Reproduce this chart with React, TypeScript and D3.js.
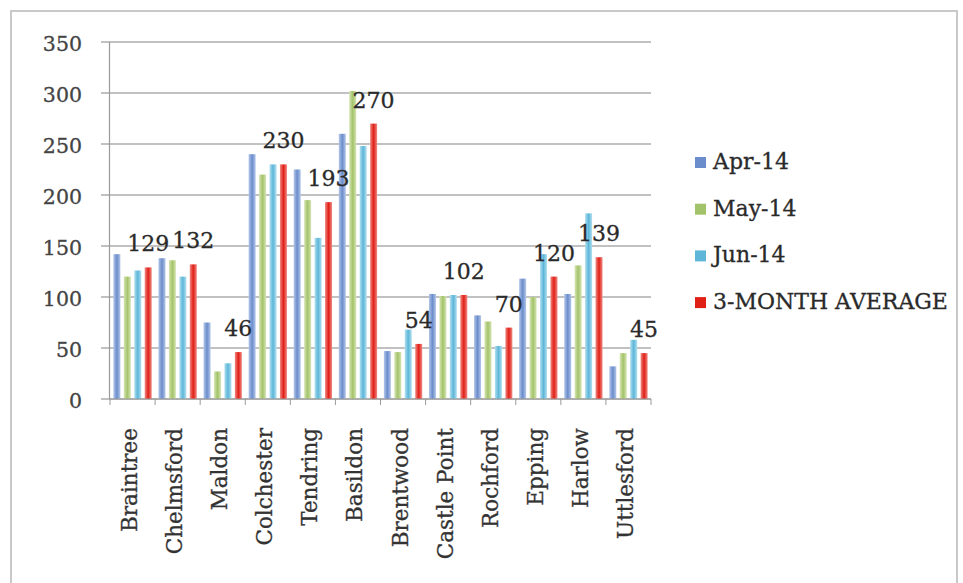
import React, { useEffect, useRef } from 'react';
import * as d3 from 'd3';

const categories = ['Braintree', 'Chelmsford', 'Maldon', 'Colchester', 'Tendring', 'Basildon', 'Brentwood', 'Castle Point', 'Rochford', 'Epping', 'Harlow', 'Uttlesford'];
const seriesNames = ['Apr-14', 'May-14', 'Jun-14', '3-MONTH AVERAGE'];
const apr14 = [142, 138, 75, 240, 225, 260, 47, 103, 82, 118, 103, 32];
const may14 = [120, 136, 27, 220, 195, 302, 46, 101, 76, 100, 131, 45];
const jun14 = [126, 120, 35, 230, 158, 248, 68, 102, 52, 142, 182, 58];
const avg3 = [129, 132, 46, 230, 193, 270, 54, 102, 70, 120, 139, 45];
const yTicks = [0, 50, 100, 150, 200, 250, 300, 350];

// [edge, centre] colours, bars have a soft horizontal gradient
const colors = [
  ['#b3c6ea', '#6b8dcb'],
  ['#d6e5b4', '#a3c36a'],
  ['#b2e0f0', '#5db6d8'],
  ['#f08a84', '#e01f17'],
];

const FONT = '"DejaVu Serif", serif';

export default function App() {
  const ref = useRef<SVGSVGElement>(null);

  useEffect(() => {
    const svg = d3.select(ref.current);
    svg.selectAll('*').remove();

    const values = [apr14, may14, jun14, avg3];

    const x0 = d3.scaleBand().domain(categories).range([110, 651]).paddingInner(0.15).paddingOuter(0.075);
    const x1 = d3.scaleBand().domain(seriesNames).range([0, x0.bandwidth()]).paddingInner(0.33).paddingOuter(0);
    const y = d3.scaleLinear().domain([0, 350]).range([399, 42]);

    // frame
    svg.append('rect')
      .attr('x', 11).attr('y', 11).attr('width', 946).attr('height', 620)
      .attr('fill', '#fff').attr('stroke', '#c9c9c9').attr('stroke-width', 2);

    // gradients
    const defs = svg.append('defs');
    colors.forEach((c, i) => {
      const g = defs.append('linearGradient').attr('id', `g${i}`).attr('x1', 0).attr('x2', 1).attr('y1', 0).attr('y2', 0);
      g.append('stop').attr('offset', '0%').attr('stop-color', c[0]);
      g.append('stop').attr('offset', '50%').attr('stop-color', c[1]);
      g.append('stop').attr('offset', '100%').attr('stop-color', c[0]);
    });

    // gridlines
    svg.append('g').selectAll('line').data(yTicks).enter().append('line')
      .attr('x1', 101).attr('x2', 651)
      .attr('y1', d => y(d)).attr('y2', d => y(d))
      .attr('stroke', '#adadad').attr('stroke-width', 1.6);

    // y axis
    svg.append('line')
      .attr('x1', 109.5).attr('x2', 109.5).attr('y1', y(350)).attr('y2', y(0))
      .attr('stroke', '#9a9a9a').attr('stroke-width', 1.2);

    svg.append('g').selectAll('text').data(yTicks).enter().append('text')
      .text(d => d)
      .attr('x', 82).attr('y', d => y(d) + 3)
      .attr('text-anchor', 'end').attr('dominant-baseline', 'middle')
      .attr('font-family', FONT).attr('font-size', 20.5).attr('fill', '#444')
      .attr('stroke', '#444').attr('stroke-width', 0.3);

    // bars
    values.forEach((vals, si) => {
      svg.append('g').selectAll('rect').data(vals).enter().append('rect')
        .attr('x', (d, i) => x0(categories[i])! + x1(seriesNames[si])!)
        .attr('y', d => y(d))
        .attr('width', x1.bandwidth())
        .attr('height', d => y(0) - y(d))
        .attr('fill', `url(#g${si})`);
    });

    // x axis with ticks between categories
    svg.append('line')
      .attr('x1', 109.5).attr('x2', 651).attr('y1', y(0)).attr('y2', y(0))
      .attr('stroke', '#9a9a9a').attr('stroke-width', 1.2);
    const bounds = categories.map(c => x0(c)! - x0.step() * x0.paddingInner() / 2).concat([651]);
    bounds[0] = 110;
    svg.append('g').selectAll('line').data(bounds).enter().append('line')
      .attr('x1', d => d).attr('x2', d => d).attr('y1', y(0)).attr('y2', y(0) + 6)
      .attr('stroke', '#9a9a9a').attr('stroke-width', 1);

    // category labels
    svg.append('g').selectAll('text').data(categories).enter().append('text')
      .text(d => d)
      .attr('transform', d => `translate(${x0(d)! + x0.bandwidth() / 2 - 3}, 428) rotate(-90)`)
      .attr('text-anchor', 'end').attr('dy', '0.35em')
      .attr('font-family', FONT).attr('font-size', 21.5).attr('fill', '#333')
      .attr('stroke', '#333').attr('stroke-width', 0.3);

    // average labels
    svg.append('g').selectAll('text').data(avg3).enter().append('text')
      .text(d => d)
      .attr('x', (d, i) => x0(categories[i])! + x1(seriesNames[3])! + x1.bandwidth() / 2)
      .attr('y', d => y(d) - 16)
      .attr('text-anchor', 'middle')
      .attr('font-family', FONT).attr('font-size', 22).attr('fill', '#2a2a2a')
      .attr('stroke', '#2a2a2a').attr('stroke-width', 0.3);

    // legend
    const legend = svg.append('g');
    seriesNames.forEach((name, i) => {
      const ly = 163 + i * 46.7;
      legend.append('rect')
        .attr('x', 695).attr('y', ly - 6).attr('width', 11).attr('height', 11)
        .attr('fill', colors[i][1]);
      legend.append('text')
        .text(name)
        .attr('x', 713).attr('y', ly)
        .attr('dominant-baseline', 'middle')
        .attr('font-family', FONT).attr('font-size', 22).attr('fill', '#2a2a2a')
        .attr('stroke', '#2a2a2a').attr('stroke-width', 0.3);
    });
  }, []);

  return <svg ref={ref} width={963} height={583} style={{ position: 'absolute', left: 0, top: 0 }} />;
}
